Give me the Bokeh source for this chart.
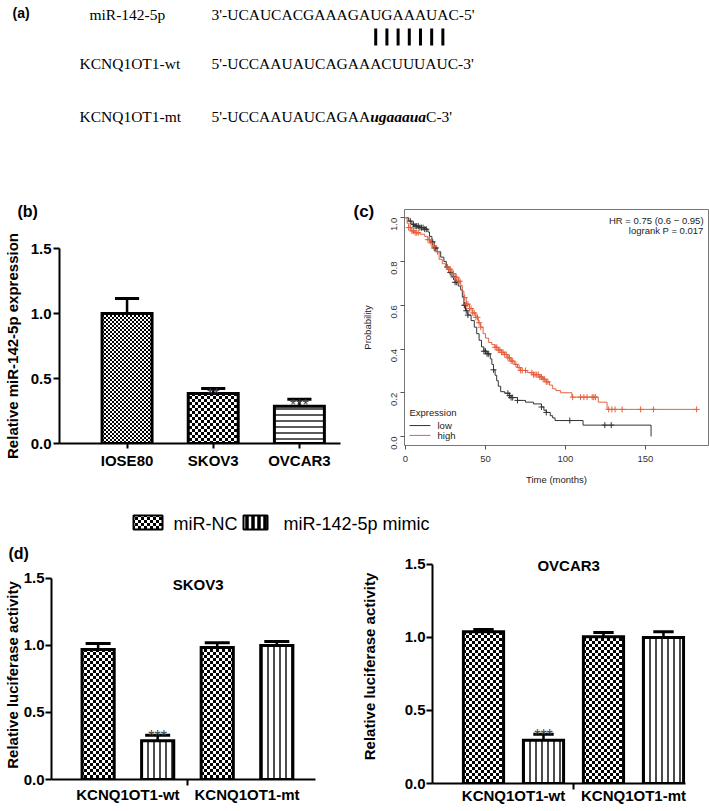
import math
import base64
import numpy as np
from bokeh.plotting import figure
from bokeh.models import (Range1d, FixedTicker, PrintfTickFormatter, Plot,
                          ImageURLTexture, ColumnDataSource)
from bokeh.layouts import column, row
from bokeh.core.properties import value
from bokeh.embed import file_html
from bokeh.resources import INLINE

SANS = "Liberation Sans"
SERIF = "Liberation Serif"

# ---------------- data ----------------
# (a) sequences
a_labels = ["miR-142-5p", "KCNQ1OT1-wt", "KCNQ1OT1-mt"]
a_mir = "3'-UCAUCACGAAAGAUGAAAUAC-5'"
a_wt = "5'-UCCAAUAUCAGAAACUUUAUC-3'"
a_mt = ["5'-UCCAAUAUCAGAA", "ugaaaua", "C-3'"]
a_paired = [13, 14, 15, 16, 17, 18, 19]   # paired nucleotides of the miR line

# (b) relative miR-142-5p expression
b_cells = ["IOSE80", "SKOV3", "OVCAR3"]
b_mean = [1.00, 0.385, 0.287]
b_err = [0.115, 0.038, 0.054]
b_sig = ["", "**", "***"]

# (c) Kaplan-Meier curves (time in months, survival probability)
km_low_t = [0, 2, 4, 6, 9, 12, 14, 15, 16.5, 18, 20, 22, 24, 25.5, 27, 29, 31, 33,
            34.5, 35.5, 36.5, 37.5, 39, 41, 43, 44.5, 46, 47.5, 49, 51,
            53, 54, 55, 56, 57, 58, 59.5, 62, 65, 66, 70, 75, 80, 85, 86.5, 88,
            90.5, 92, 93.5, 111, 153.5]
km_low_s = [1.0, .985, .97, .962, .955, .948, .935, .915, .89, .862, .845, .82, .80,
            .775, .75, .73, .705, .688, .67, .64, .60, .575, .555, .53, .50, .47, .44,
            .41, .39, .378,
            .355, .33, .305, .28, .255, .23, .205, .198, .187, .178, .165, .157, .149,
            .135, .12, .11, .095, .085, .073, .052, 0.0]
km_high_t = [0, 1, 2, 3.5, 6, 9, 12, 14, 15.5, 17, 19, 21, 23, 25, 27, 29, 31, 33,
             34.5, 35.5, 36.5, 38, 40, 42, 44, 45.5, 47, 48.5, 50, 52, 54, 56, 58, 60,
             62, 64, 66, 68, 70, 72, 76, 80, 84, 86, 88, 90, 92, 94, 97, 104, 120.5,
             126, 182]
km_high_s = [1.0, .975, .955, .94, .932, .925, .915, .9, .885, .868, .845, .81, .79,
             .775, .765, .745, .728, .71, .69, .665, .635, .605, .585, .565, .545, .52,
             .5, .47, .45, .43, .42, .408, .395, .385, .375, .36, .345, .33, .315, .302,
             .292, .283, .272, .262, .25, .235, .218, .21, .2, .18, .157, .124, .124]
km_low_cens = [3, 5, 6, 7, 8, 9, 10, 11, 12, 13, 17, 18, 19, 26, 28, 30, 31, 32, 36.8,
               37.2, 38, 39, 49, 50, 51, 52, 55, 64, 65, 66, 67, 70, 85, 88, 102.7,
               124.6, 128.6]
km_high_cens = [2, 3, 4, 5, 6, 7, 8, 14, 15, 16, 18, 20, 26, 27, 28, 29, 30, 31, 32, 33,
                34, 37, 38, 39, 40, 41, 42, 43, 44, 45, 46, 47, 56, 57, 58, 59, 60, 61,
                62, 63, 64, 65, 66, 67, 69, 71, 72, 73, 75, 79, 80, 81, 82, 83, 84, 85,
                86, 87, 88, 89, 104.5, 109.4, 111.5, 113.5, 116.7, 117.7, 118.7, 127,
                129, 131, 135.4, 147, 155, 182]
km_hr_text = ["HR = 0.75 (0.6 \u2212 0.95)", "logrank P = 0.017"]
km_groups = ["low", "high"]

# (d) luciferase activity
d_groups = ["KCNQ1OT1-wt", "KCNQ1OT1-mt"]
d_series = ["miR-NC", "miR-142-5p mimic"]
skov3_nc = [0.97, 0.985]
skov3_nc_err = [0.045, 0.035]
skov3_mimic = [0.29, 1.00]
skov3_mimic_err = [0.04, 0.03]
skov3_sig = ["***", ""]
ovcar3_nc = [1.04, 1.005]
ovcar3_nc_err = [0.015, 0.03]
ovcar3_mimic = [0.297, 1.00]
ovcar3_mimic_err = [0.04, 0.04]
ovcar3_sig = ["***", ""]

# ---------------- textures ----------------
HAS_FA = "frame_align" in Plot.properties()


def svg_checker_url(period, color):
    h = period / 2
    svg = (f"<svg xmlns='http://www.w3.org/2000/svg' width='{period}' height='{period}'>"
           f"<rect x='0' y='0' width='{h}' height='{h}' fill='{color}'/>"
           f"<rect x='{h}' y='{h}' width='{h}' height='{h}' fill='{color}'/></svg>")
    return "data:image/svg+xml;base64," + base64.b64encode(svg.encode()).decode()


TEX = {
    "ibk4": ImageURLTexture(url=svg_checker_url(4, "black")),
    "ibk6": ImageURLTexture(url=svg_checker_url(6, "black")),
    "iwh6": ImageURLTexture(url=svg_checker_url(6, "white")),
}


def fig(**kw):
    if HAS_FA:
        kw["frame_align"] = False
    return figure(output_backend="svg", toolbar_location=None, **kw)


def blank_fig(w, h):
    p = fig(width=w, height=h, x_range=Range1d(0, w), y_range=Range1d(h, 0),
            x_axis_location=None, y_axis_location=None, min_border=0)
    p.grid.visible = False
    p.outline_line_color = None
    return p


def tag(p, x, y, text, size="16px"):
    p.text(x=[x], y=[y], text=[text], text_font=value(SANS), text_font_style="bold",
           text_font_size=size, text_baseline="middle", text_color="black")


def gp_style(p, tick_size="15px", label_size="15px"):
    for ax in p.axis:
        ax.axis_line_width = 2
        ax.axis_line_color = "black"
        ax.major_tick_line_width = 2
        ax.major_tick_line_color = "black"
        ax.major_tick_out = 6
        ax.major_tick_in = 0
        ax.minor_tick_line_color = None
        ax.major_label_text_font = SANS
        ax.major_label_text_font_style = "bold"
        ax.major_label_text_color = "black"
        ax.major_label_text_font_size = tick_size
        ax.axis_label_text_font = SANS
        ax.axis_label_text_font_style = "bold"
        ax.axis_label_text_color = "black"
        ax.axis_label_text_font_size = label_size
    p.grid.visible = False
    p.outline_line_color = None


def tex_bar(p, xs, tops, width, key):
    src = ColumnDataSource(dict(x=xs, top=tops, hp=[key] * len(xs)))
    p.vbar(x="x", top="top", bottom=0, width=width, source=src, fill_color="white",
           line_color="black", line_width=3, line_join="miter", hatch_pattern="hp",
           hatch_extra=TEX, hatch_color="black")


# ---------------- (a) ----------------
SERIF_R = {"3": .5, "5": .5, "'": .18, "-": .333, "U": .722, "C": .667, "A": .722,
           "G": .722}
SERIF_BI = {"u": .556, "g": .5, "a": .5}
FS = 15.5


def tw(s, table):
    return sum(table[c] for c in s) * FS


pa = blank_fig(709, 135)
seq_x = 211
row_y = [14, 63, 116]
pa.text(x=[89, 79, 79], y=row_y, text=a_labels, text_font=value(SERIF),
        text_font_size=f"{FS}px", text_baseline="middle", text_color="black")
pa.text(x=[seq_x, seq_x], y=row_y[:2], text=[a_mir, a_wt], text_font=value(SERIF),
        text_font_size=f"{FS}px", text_baseline="middle", text_color="black")
w0 = tw(a_mt[0], SERIF_R)
w1 = tw(a_mt[1], SERIF_BI)
pa.text(x=[seq_x, seq_x + w0 + w1], y=[row_y[2]] * 2, text=[a_mt[0], a_mt[2]],
        text_font=value(SERIF), text_font_size=f"{FS}px", text_baseline="middle",
        text_color="black")
pa.text(x=[seq_x + w0], y=[row_y[2]], text=[a_mt[1]], text_font=value(SERIF),
        text_font_size=f"{FS}px", text_font_style="bold italic",
        text_baseline="middle", text_color="black")
pair_x = [seq_x + tw(a_mir[:3 + i], SERIF_R) + SERIF_R[a_mir[3 + i]] * FS / 2
          for i in a_paired]
pa.segment(x0=pair_x, y0=[28] * len(pair_x), x1=pair_x, y1=[45] * len(pair_x),
           line_width=3, line_color="black")
tag(pa, 12, 12, "(a)", size="14px")

# ---------------- (b) ----------------
sb = blank_fig(345, 90)
tag(sb, 17, 76, "(b)")

pb = fig(width=345, height=280, x_range=Range1d(-0.784, 2.477), y_range=Range1d(0, 1.5),
         min_border_left=53, min_border_right=5, min_border_top=23,
         min_border_bottom=62)
bx = list(range(len(b_cells)))
tex_bar(pb, [bx[0]], [b_mean[0]], 0.58, "ibk4")
tex_bar(pb, [bx[1]], [b_mean[1]], 0.58, "ibk6")
pb.vbar(x=[bx[2]], top=[b_mean[2]], bottom=0, width=0.58, fill_color="white",
        line_color="black", line_width=3, line_join="miter",
        hatch_pattern="horizontal_line", hatch_scale=6, hatch_weight=1.3,
        hatch_color="black")
b_top = [m + e for m, e in zip(b_mean, b_err)]
pb.segment(x0=bx, y0=b_mean, x1=bx, y1=b_top, line_width=2.5, line_color="black")
pb.segment(x0=[x - 0.14 for x in bx], y0=b_top, x1=[x + 0.14 for x in bx], y1=b_top,
           line_width=3, line_color="black")
pb.text(x=bx, y=b_top, text=b_sig, text_font=value(SANS), text_font_size="16px",
        text_align="center", text_baseline="alphabetic", y_offset=6, text_color="#444")
gp_style(pb)
pb.yaxis.ticker = FixedTicker(ticks=[0, 0.5, 1.0, 1.5])
pb.yaxis.formatter = PrintfTickFormatter(format="%.1f")
pb.yaxis.axis_label = "Relative miR-142-5p expression"
pb.yaxis.axis_label_standoff = 7
pb.yaxis.major_label_standoff = 2
pb.xaxis.ticker = FixedTicker(ticks=bx)
pb.xaxis.major_label_overrides = {i: c for i, c in zip(bx, b_cells)}
pb.xaxis.major_tick_out = 5
pb.xaxis.major_label_standoff = 3

# ---------------- (c) ----------------
RED = "#E5603F"
DARK = "#333333"
sc = blank_fig(30, 370)
tag(sc, 8, 76, "(c)", size="17px")
sc.text(x=[22], y=[192], text=["Probability"], angle=math.pi / 2,
        text_font=value(SANS), text_font_size="9.5px", text_align="center",
        text_baseline="middle", text_color="#222")

pc = fig(width=334, height=370, x_range=Range1d(-0.625, 189.4),
         y_range=Range1d(-0.0411, 1.0379), min_border_left=29, min_border_right=1,
         min_border_top=74, min_border_bottom=60)
pc.step(km_low_t, km_low_s, mode="after", line_color=DARK, line_width=1)
pc.step(km_high_t, km_high_s, mode="after", line_color=RED, line_width=1)


def surv_at(ts, ss, t):
    idx = np.searchsorted(np.array(ts), t, side="right") - 1
    return [ss[i] for i in idx]


pc.scatter(km_low_cens, surv_at(km_low_t, km_low_s, km_low_cens), marker="cross",
           size=6, line_color=DARK, line_width=1)
pc.scatter(km_high_cens, surv_at(km_high_t, km_high_s, km_high_cens), marker="cross",
           size=6, line_color=RED, line_width=1)
pc.text(x=[186.3, 186.3], y=[0.988, 0.944], text=km_hr_text, text_font=value(SANS),
        text_font_size="9.5px", text_align="right", text_baseline="middle",
        text_color="#222")
pc.text(x=[2.5], y=[0.11], text=["Expression"], text_font=value(SANS),
        text_font_size="9.5px", text_baseline="middle", text_color="#222")
pc.segment(x0=[2.5, 2.5], y0=[0.05, 0.005], x1=[15.6, 15.6], y1=[0.05, 0.005],
           line_color=[DARK, RED], line_width=1)
pc.text(x=[20, 20], y=[0.05, 0.005], text=km_groups, text_font=value(SANS),
        text_font_size="9.5px", text_baseline="middle", text_color="#222")
pc.grid.visible = False
pc.outline_line_color = "#777"
pc.outline_line_width = 1
for ax in pc.axis:
    ax.axis_line_color = None
    ax.major_tick_line_color = "#555"
    ax.major_tick_out = 4
    ax.major_tick_in = 0
    ax.minor_tick_line_color = None
    ax.major_label_text_font = SANS
    ax.major_label_text_font_size = "9.5px"
    ax.major_label_text_color = "#333"
    ax.axis_label_text_font = SANS
    ax.axis_label_text_font_size = "9.5px"
    ax.axis_label_text_font_style = "normal"
    ax.axis_label_text_color = "#222"
pc.xaxis.ticker = FixedTicker(ticks=[0, 50, 100, 150])
pc.xaxis.axis_label = "Time (months)"
pc.xaxis.major_label_standoff = 6
pc.xaxis.axis_label_standoff = 9
pc.yaxis.ticker = FixedTicker(ticks=[0, 0.2, 0.4, 0.6, 0.8, 1.0])
pc.yaxis.formatter = PrintfTickFormatter(format="%.1f")
pc.yaxis.major_label_orientation = math.pi / 2
pc.yaxis.major_label_standoff = 6

# ---------------- legend row ----------------
pl = blank_fig(709, 40)
leg_src = ColumnDataSource(dict(l=[133], r=[162], t=[10], b=[24], hp=["iwh6"]))
pl.quad(left="l", right="r", top="t", bottom="b", source=leg_src, fill_color="black",
        line_color="black", line_width=2, hatch_pattern="hp", hatch_extra=TEX,
        hatch_color="white")
pl.quad(left=[243], right=[267], top=[10], bottom=[24], fill_color="black",
        line_color="black", line_width=2, hatch_pattern="vertical_line",
        hatch_scale=6, hatch_weight=2.5, hatch_color="white")
pl.text(x=[173, 283], y=[18, 18], text=d_series, text_font=value(SANS),
        text_font_size="18px", text_baseline="middle", text_color="black")


# ---------------- (d) ----------------
def lucif(width, height, mbl, mbr, mbt, mbb, xr, ytop, barw, capw, nc, nc_err, mi,
          mi_err, sig, title, title_xy):
    p = fig(width=width, height=height, x_range=Range1d(*xr), y_range=Range1d(0, ytop),
            min_border_left=mbl, min_border_right=mbr, min_border_top=mbt,
            min_border_bottom=mbb)
    gx = list(range(len(d_groups)))
    ncx = [2 * g for g in gx]
    mix = [2 * g + 1 for g in gx]
    tex_bar(p, ncx, nc, barw, "ibk6")
    p.vbar(x=mix, top=mi, bottom=0, width=barw, fill_color="white", line_color="black",
           line_width=3, line_join="miter", hatch_pattern="vertical_line",
           hatch_scale=6, hatch_weight=1.4, hatch_color="black")
    xs = ncx + mix
    ms = nc + mi
    tops = [m + e for m, e in zip(nc, nc_err)] + [m + e for m, e in zip(mi, mi_err)]
    p.segment(x0=xs, y0=ms, x1=xs, y1=tops, line_width=2.5, line_color="black")
    p.segment(x0=[x - capw for x in xs], y0=tops, x1=[x + capw for x in xs], y1=tops,
              line_width=3, line_color="black")
    p.text(x=mix, y=tops[len(nc):], text=sig, text_font=value(SANS),
           text_font_size="16px", text_align="center", text_baseline="alphabetic",
           y_offset=1, text_color="#444")
    p.text(x=[title_xy[0]], y=[title_xy[1]], text=[title], text_font=value(SANS),
           text_font_style="bold", text_font_size="15px", text_align="center",
           text_baseline="middle", text_color="black")
    gp_style(p, tick_size="15px", label_size="15px")
    p.yaxis.bounds = (0, 1.5)
    p.yaxis.ticker = FixedTicker(ticks=[0, 0.5, 1.0, 1.5])
    p.yaxis.formatter = PrintfTickFormatter(format="%.1f")
    p.yaxis.axis_label = "Relative luciferase activity"
    p.yaxis.major_label_standoff = 1
    centers = [2 * g + 0.5 for g in gx]
    p.xaxis.ticker = FixedTicker(ticks=centers, minor_ticks=[1.5])
    p.xaxis.major_label_overrides = {c: g for c, g in zip(centers, d_groups)}
    p.xaxis.major_tick_out = 0
    p.xaxis.major_tick_line_color = None
    p.xaxis.minor_tick_line_color = "black"
    p.xaxis.minor_tick_line_width = 2
    p.xaxis.minor_tick_out = 6
    p.xaxis.minor_tick_in = 0
    return p


sd = blank_fig(352, 20)
tag(sd, 8, 8, "(d)")
pd1 = lucif(352, 246, 49, 37, 5, 32, (-0.783, 3.65), 1.5597, 0.54, 0.21, skov3_nc,
            skov3_nc_err, skov3_mimic, skov3_mimic_err, skov3_sig, "SKOV3",
            (1.68, 1.455))
pd1.yaxis.axis_label_standoff = 0
pd1.xaxis.major_label_standoff = 0
pd2 = lucif(357, 266, 80, 24, 4, 28, (-0.85, 3.367), 1.6027, 0.67, 0.17, ovcar3_nc,
            ovcar3_nc_err, ovcar3_mimic, ovcar3_mimic_err, ovcar3_sig, "OVCAR3",
            (1.42, 1.493))
pd2.yaxis.axis_label_standoff = 24
pd2.xaxis.major_label_standoff = -3

layout = column(pa, row(column(sb, pb), sc, pc), pl, row(column(sd, pd1), pd2))
open("out.html", "w").write(file_html(layout, INLINE))
